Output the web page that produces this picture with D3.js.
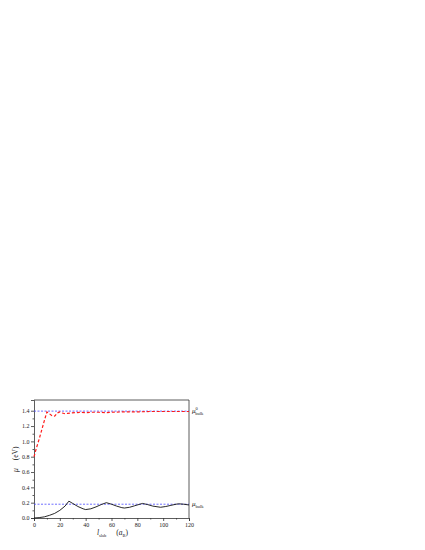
<!DOCTYPE html>
<html>
<head>
<meta charset="utf-8">
<script src="https://cdn.jsdelivr.net/npm/d3@7"></script>
<style>
  body { margin: 0; background: #fff; }
  svg { display: block; }
  .axis text { font-family: "Liberation Serif", serif; font-size: 6px; fill: #222; }
  .axis path, .axis line { stroke: #333; stroke-width: 0.8; }
  .lbl { font-family: "Liberation Serif", serif; fill: #222; }
</style>
</head>
<body>
<div id="graph"></div>
<script>
// red dashed series (upper)
var redX = [0, 2, 4, 6, 8, 10, 12, 14, 16, 18, 20, 22, 24, 26, 28, 32, 36, 40, 44, 50, 56, 60, 70, 80, 90, 100, 110, 120];
var redY = [0.8, 0.92, 1.03, 1.15, 1.27, 1.385, 1.36, 1.335, 1.33, 1.37, 1.385, 1.37, 1.36, 1.365, 1.37, 1.375, 1.38, 1.375, 1.38, 1.38, 1.375, 1.38, 1.385, 1.385, 1.39, 1.39, 1.39, 1.39];
// black solid series (lower)
var blackX = [0, 4, 8, 12, 16, 20, 24, 27, 30, 34, 38, 40, 44, 48, 52, 56, 60, 64, 68, 70, 74, 78, 82, 84, 88, 92, 96, 98, 102, 106, 110, 112, 116, 120];
var blackY = [0, 0.005, 0.015, 0.035, 0.06, 0.1, 0.155, 0.22, 0.19, 0.15, 0.12, 0.11, 0.12, 0.145, 0.175, 0.2, 0.18, 0.155, 0.135, 0.13, 0.14, 0.16, 0.18, 0.19, 0.175, 0.155, 0.145, 0.14, 0.15, 0.165, 0.18, 0.185, 0.18, 0.17];
// reference levels
var bulkLevels = [1.395, 0.18];
var xTicks = [0, 20, 40, 60, 80, 100, 120];
var yTicks = [0.0, 0.2, 0.4, 0.6, 0.8, 1.0, 1.2, 1.4];

var margin = {top: 400, right: 236, bottom: 32, left: 34},
    width = 425 - margin.left - margin.right,
    height = 550 - margin.top - margin.bottom;

var x = d3.scaleLinear().domain([0, 120]).range([0, width]),
    y = d3.scaleLinear().domain([0, 1.54]).range([height, 0]);

var svg = d3.select("#graph").append("svg")
    .attr("width", 425)
    .attr("height", 550)
  .append("g")
    .attr("transform", "translate(" + margin.left + "," + margin.top + ")");

// minor ticks
svg.append("g")
    .attr("class", "axis")
    .attr("transform", "translate(0," + height + ")")
    .call(d3.axisBottom(x).tickValues(d3.range(10, 120, 20)).tickSize(1.5).tickFormat(""))
    .select(".domain").remove();
svg.append("g")
    .attr("class", "axis")
    .call(d3.axisLeft(y).tickValues(d3.range(0.1, 1.5, 0.2)).tickSize(1.5).tickFormat(""))
    .select(".domain").remove();

// main axes
svg.append("g")
    .attr("class", "axis")
    .attr("transform", "translate(0," + height + ")")
    .call(d3.axisBottom(x).tickValues(xTicks).tickSize(3).tickPadding(1.5).tickFormat(d3.format("d")));
svg.append("g")
    .attr("class", "axis")
    .call(d3.axisLeft(y).tickValues(yTicks).tickSize(3).tickPadding(1.5).tickFormat(d3.format(".1f")));

// frame top / right
svg.append("line").attr("x1", 0).attr("x2", width).attr("y1", 0).attr("y2", 0)
    .attr("stroke", "#333").attr("stroke-width", 0.8);
svg.append("line").attr("x1", width).attr("x2", width).attr("y1", 0).attr("y2", height)
    .attr("stroke", "#333").attr("stroke-width", 0.8);

// blue dashed reference lines
svg.selectAll(".ref")
    .data(bulkLevels)
  .enter().append("line")
    .attr("class", "ref")
    .attr("x1", 0).attr("x2", width)
    .attr("y1", function(d){ return y(d); })
    .attr("y2", function(d){ return y(d); })
    .attr("stroke", "#4a4aff")
    .attr("stroke-width", 0.8)
    .attr("stroke-dasharray", "2,1.5");

var line = d3.line()
    .x(function(d){ return x(d[0]); })
    .y(function(d){ return y(d[1]); });

svg.append("path")
    .datum(redX.map(function(v, i){ return [v, redY[i]]; }))
    .attr("fill", "none")
    .attr("stroke", "#ff1a1a")
    .attr("stroke-width", 1.2)
    .attr("stroke-dasharray", "3,2")
    .attr("d", line);

svg.append("path")
    .datum(blackX.map(function(v, i){ return [v, blackY[i]]; }))
    .attr("fill", "none")
    .attr("stroke", "#111")
    .attr("stroke-width", 0.9)
    .attr("d", line);

// right-side labels
var r1 = svg.append("text").attr("class", "lbl")
    .attr("x", width + 3).attr("y", y(bulkLevels[0]) + 2).style("font-size", "7px");
r1.append("tspan").style("font-style", "italic").text("μ");
r1.append("tspan").attr("dx", 0).attr("dy", -3).style("font-size", "4.5px").text("0");
r1.append("tspan").attr("dx", -2.5).attr("dy", 5).style("font-size", "4.5px").text("bulk");

var r2 = svg.append("text").attr("class", "lbl")
    .attr("x", width + 3).attr("y", y(bulkLevels[1]) + 2).style("font-size", "7px");
r2.append("tspan").style("font-style", "italic").text("μ");
r2.append("tspan").attr("dy", 2).style("font-size", "4.5px").text("bulk");

// x axis label
var xl = svg.append("text").attr("class", "lbl")
    .attr("x", 63).attr("y", height + 16.5).style("font-size", "7.5px");
xl.append("tspan").style("font-style", "italic").text("l");
xl.append("tspan").attr("dy", 2.5).style("font-size", "4.5px").text("slab");
xl.append("tspan").attr("dx", 10).attr("dy", -2.5).text("(");
xl.append("tspan").style("font-style", "italic").text("a");
xl.append("tspan").attr("dy", 2).style("font-size", "4.5px").text("B");
xl.append("tspan").attr("dy", -2).text(")");

// y axis label
var yl = svg.append("text").attr("class", "lbl")
    .attr("transform", "translate(-16," + (height / 2 + 13) + ") rotate(-90)")
    .style("font-size", "7.5px");
yl.append("tspan").style("font-style", "italic").text("μ");
yl.append("tspan").attr("dx", 8).text("(eV)");
</script>
</body>
</html>
